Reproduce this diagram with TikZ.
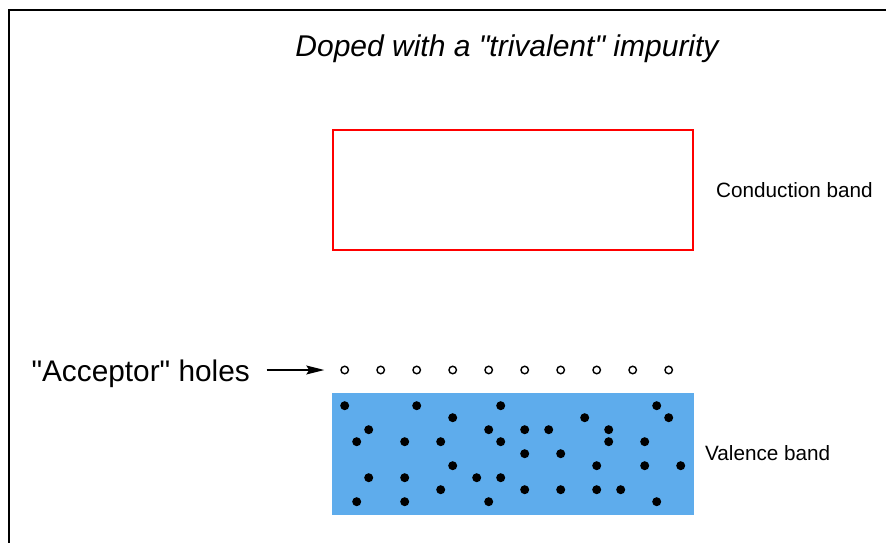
\documentclass[tikz,border=0pt]{standalone}
\usepackage{fontspec}
\setmainfont{Liberation Sans}
\usetikzlibrary{arrows.meta}
\definecolor{valblue}{RGB}{94,172,236}
\tikzset{el/.style = {circle, fill=black, minimum size=9pt, inner sep=0pt},
         ho/.style = {circle, draw, line width=1.4pt, minimum size=7.5pt, inner sep=0pt},
         lb/.style = {font=\fontsize{20.7}{24}\selectfont, inner sep=0pt, anchor=base west}}
\begin{document}
\begin{tikzpicture}[x=1pt, y=-1pt, >={Stealth[length=18pt, width=9pt, inset=3pt]}]
    \useasboundingbox (0,0) rectangle (886,543);
    \draw[line width=2pt] (9,543) -- (9,10) -- (886,10);
    \node[font=\fontsize{30}{34}\selectfont\itshape, inner sep=0pt, anchor=base] (title) at (507,57) {Doped with a \textquotedbl trivalent\textquotedbl\ impurity};
    \node[draw=red, line width=2pt, minimum width=360pt, minimum height=120pt, inner sep=0pt] (cb) at (513,190) {};
    \node[fill=valblue, minimum width=362pt, minimum height=122pt, inner sep=0pt] (vb) at (513,454) {};
    \node[lb] (cbl) at (716,197) {Conduction band};
    \node[lb] (vbl) at (705,460) {Valence band};
    \foreach \i in {1,...,10}
      \node[ho] (h\i) at ({308.7+36*\i},370) {};
    \foreach \c/\r [count=\n] in {0/0, 6/0, 13/0, 26/0, 9/1, 20/1, 27/1,
        2/2, 12/2, 15/2, 17/2, 22/2, 1/3, 5/3, 8/3, 13/3, 22/3, 25/3, 15/4, 18/4,
        9/5, 21/5, 25/5, 28/5, 2/6, 5/6, 11/6, 13/6, 8/7, 15/7, 18/7, 21/7, 23/7,
        1/8, 5/8, 12/8, 26/8}
      \node[el] (e\n) at ({344.7+12*\c},{405.7+12*\r}) {};
    \node[font=\fontsize{29.8}{34}\selectfont, inner sep=0pt, anchor=base east] (acc) at (250,381) {\textquotedbl Acceptor\textquotedbl\ holes};
    \draw[->, line width=1.2pt, shorten <=16.5pt, shorten >=16pt] (acc.east |- h1.west) -- (h1.west);
\end{tikzpicture}
\end{document}
